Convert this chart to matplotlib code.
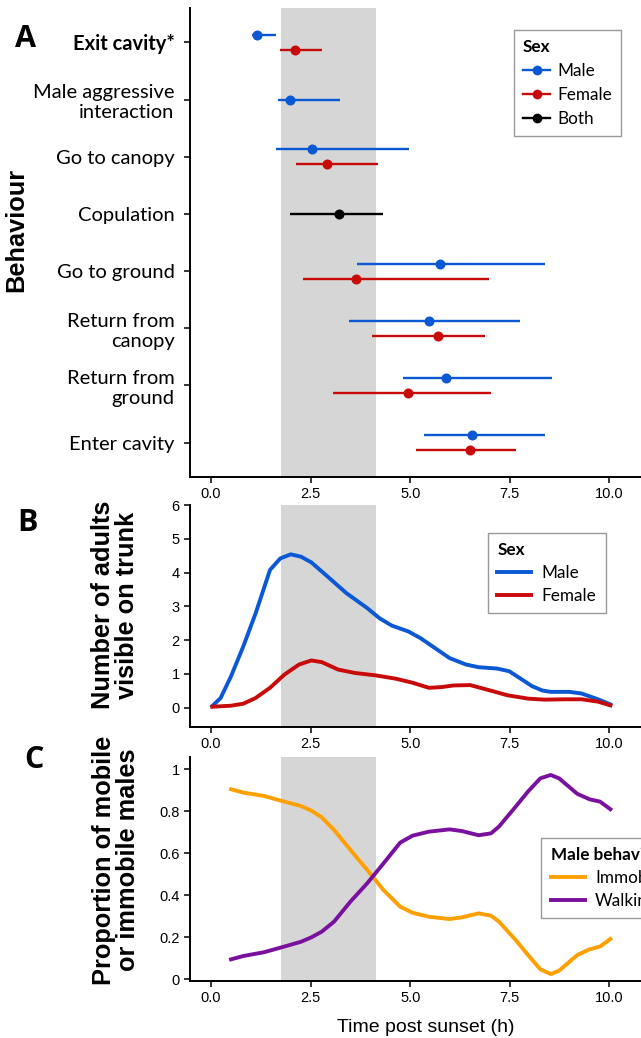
import numpy as np
import matplotlib.pyplot as plt
from matplotlib.lines import Line2D

# ---- panel A data ----
behaviours = ["Exit cavity*", "Male aggressive\ninteraction", "Go to canopy", "Copulation",
              "Go to ground", "Return from\ncanopy", "Return from\nground", "Enter cavity"]
male_idx = [0, 1, 2, 4, 5, 6, 7]
male_mean = [1.15, 1.97, 2.53, 5.74, 5.48, 5.89, 6.55]
male_lo = [1.02, 1.67, 1.62, 3.66, 3.47, 4.82, 5.35]
male_hi = [1.64, 3.24, 4.97, 8.39, 7.77, 8.56, 8.39]
female_idx = [0, 2, 4, 5, 6, 7]
female_mean = [2.10, 2.91, 3.65, 5.69, 4.94, 6.50]
female_lo = [1.74, 2.13, 2.31, 4.03, 3.06, 5.14]
female_hi = [2.78, 4.18, 6.97, 6.87, 7.03, 7.67]
both_idx = [3]
both_mean = [3.22]
both_lo = [1.97]
both_hi = [4.31]

# ---- panel B data ----
b_male_t = [0.03, 0.24, 0.50, 0.81, 1.12, 1.48, 1.74, 2.00, 2.26, 2.52, 2.88, 3.40, 3.92, 4.23,
            4.54, 4.95, 5.26, 5.68, 5.99, 6.40, 6.72, 7.18, 7.49, 7.75, 8.06, 8.32, 8.53, 9.00,
            9.31, 9.72, 10.03]
b_male_n = [0.05, 0.29, 0.93, 1.82, 2.80, 4.08, 4.42, 4.54, 4.47, 4.30, 3.93, 3.39, 2.95, 2.65,
            2.43, 2.26, 2.06, 1.72, 1.47, 1.28, 1.20, 1.16, 1.08, 0.88, 0.64, 0.51, 0.47, 0.47,
            0.42, 0.25, 0.10]
b_female_t = [0.03, 0.50, 0.81, 1.12, 1.48, 1.84, 2.21, 2.52, 2.78, 3.19, 3.61, 4.12, 4.64, 5.06,
              5.47, 5.78, 6.09, 6.51, 6.92, 7.44, 7.96, 8.37, 8.89, 9.31, 9.72, 10.03]
b_female_n = [0.03, 0.06, 0.12, 0.29, 0.59, 0.98, 1.28, 1.40, 1.35, 1.13, 1.03, 0.96, 0.86, 0.74,
              0.59, 0.61, 0.66, 0.67, 0.54, 0.37, 0.27, 0.24, 0.25, 0.25, 0.18, 0.07]

# ---- panel C data ----
c_t = [0.50, 0.81, 1.33, 1.84, 2.26, 2.52, 2.78, 3.09, 3.50, 3.92, 4.33, 4.75, 5.06, 5.47,
       5.99, 6.30, 6.72, 7.03, 7.23, 7.65, 7.96, 8.27, 8.53, 8.74, 9.20, 9.51, 9.77, 10.03]
c_immobile = [0.905, 0.889, 0.873, 0.846, 0.825, 0.803, 0.771, 0.711, 0.616, 0.521, 0.425,
              0.346, 0.317, 0.298, 0.287, 0.295, 0.314, 0.303, 0.275, 0.187, 0.116, 0.048,
              0.025, 0.041, 0.116, 0.143, 0.156, 0.192]
c_walking = [0.095, 0.111, 0.129, 0.156, 0.179, 0.200, 0.227, 0.275, 0.370, 0.457, 0.552,
             0.651, 0.684, 0.703, 0.714, 0.706, 0.686, 0.695, 0.727, 0.822, 0.894, 0.957,
             0.973, 0.957, 0.883, 0.857, 0.846, 0.810]

dusk = (1.76, 4.15)
xticks = [0.0, 2.5, 5.0, 7.5, 10.0]

BLUE = '#0a58d4'
RED = '#c80a0a'
ORANGE = '#ffa000'
PURPLE = '#7a119e'
GREY = '#d6d6d6'

plt.rcParams['font.family'] = ['Liberation Sans', 'DejaVu Sans']
plt.rcParams['axes.linewidth'] = 1.4
plt.rcParams['xtick.major.width'] = 1.1
plt.rcParams['ytick.major.width'] = 1.1
plt.rcParams['xtick.major.size'] = 4
plt.rcParams['ytick.major.size'] = 4
plt.rcParams['xtick.labelsize'] = 10.5
plt.rcParams['ytick.labelsize'] = 10.5

W, H = 641, 1038
fig = plt.figure(figsize=(W / 100, H / 100), dpi=100)


def px_axes(left, top, bottom, right=649):
    return fig.add_axes([left / W, 1 - bottom / H, (right - left) / W, (bottom - top) / H])


def style(ax):
    for s in ['top', 'right']:
        ax.spines[s].set_visible(False)
    ax.set_xlim(-0.53, 11.0)
    ax.set_xticks(xticks)
    ax.set_xticklabels([f"{v:.1f}" for v in xticks])
    ax.axvspan(*dusk, color=GREY, zorder=0, lw=0)


cat_font = ['Lato', 'DejaVu Sans']
leg_kw = dict(loc='upper left', borderaxespad=0, fancybox=False, edgecolor='#999999',
              framealpha=1, prop={'family': cat_font, 'size': 12.3}, alignment='left',
              title_fontproperties={'family': cat_font, 'weight': 'bold', 'size': 12.3},
              borderpad=0.55)

# ---- A ----
axA = px_axes(190, 8, 477)
style(axA)
n = len(behaviours)
ypos = {i: n - i for i in range(n)}
dodge = 0.13


def draw(idx, mean, lo, hi, color, sign):
    for i, m, l, h in zip(idx, mean, lo, hi):
        paired = i in male_idx and i in female_idx
        y = ypos[i] + (sign * dodge if paired else 0)
        axA.plot([l, h], [y, y], color=color, lw=1.7, solid_capstyle='butt', zorder=2)
        axA.plot(m, y, 'o', color=color, ms=6.2, zorder=3)


draw(male_idx, male_mean, male_lo, male_hi, BLUE, 1)
draw(female_idx, female_mean, female_lo, female_hi, RED, -1)
draw(both_idx, both_mean, both_lo, both_hi, 'black', 0)
axA.set_ylim(0.4, n + 0.6)
axA.set_yticks([ypos[i] for i in range(n)])
axA.set_yticklabels(behaviours, family=cat_font, fontsize=14.5, linespacing=1.2)
axA.get_yticklabels()[0].set_fontweight('bold')
axA.tick_params(axis='y', pad=7)

handles = [Line2D([], [], color=c, marker='o', ms=6, lw=1.7) for c in (BLUE, RED, 'black')]
legA = axA.legend(handles, ['Male', 'Female', 'Both'], title='Sex',
                  bbox_to_anchor=(0.705, 0.953), handlelength=1.6, handletextpad=0.4,
                  labelspacing=0.45, **leg_kw)
legA.get_frame().set_linewidth(1.0)

# ---- B ----
axB = px_axes(190, 505, 727)
style(axB)
axB.plot(b_male_t, b_male_n, color=BLUE, lw=2.8, label='Male')
axB.plot(b_female_t, b_female_n, color=RED, lw=2.8, label='Female')
axB.set_ylim(-0.57, 6.0)
axB.set_yticks(range(7))
legB = axB.legend(title='Sex', bbox_to_anchor=(0.649, 0.875), handlelength=2.0,
                  handletextpad=0.6, labelspacing=0.4, **leg_kw)
legB.get_frame().set_linewidth(1.0)

# ---- C ----
axC = px_axes(190, 756.7, 981)
style(axC)
axC.plot(c_t, c_immobile, color=ORANGE, lw=2.8, label='Immobile')
axC.plot(c_t, c_walking, color=PURPLE, lw=2.8, label='Walking')
axC.set_ylim(-0.008, 1.06)
axC.set_yticks([0, 0.2, 0.4, 0.6, 0.8, 1.0])
axC.set_yticklabels(['0', '0.2', '0.4', '0.6', '0.8', '1'])
legC = axC.legend(title='Male behaviour', bbox_to_anchor=(0.765, 0.6375), handlelength=2.0,
                  handletextpad=0.6, labelspacing=0.4, **leg_kw)
legC.get_frame().set_linewidth(1.0)

# ---- labels ----
lab = dict(rotation=90, ha='center', va='center', fontsize=18.3, fontweight='bold',
           linespacing=1.05)
fig.text(16 / W, 1 - 230 / H, 'Behaviour', **lab)
fig.text(115 / W, 1 - 605 / H, 'Number of adults\nvisible on trunk', **lab)
fig.text(116 / W, 1 - 860 / H, 'Proportion of mobile\nor immobile males', **lab)
fig.text(426 / W, 1 - 1027 / H, 'Time post sunset (h)', ha='center', va='center', fontsize=14)

for letter, x, y in [('A', 15, 47), ('B', 17, 531), ('C', 24, 768)]:
    fig.text(x / W, 1 - y / H, letter, fontsize=22, fontweight='bold', va='baseline',
             family=['Open Sans', 'DejaVu Sans'])

fig.savefig('out.png', dpi=100)
